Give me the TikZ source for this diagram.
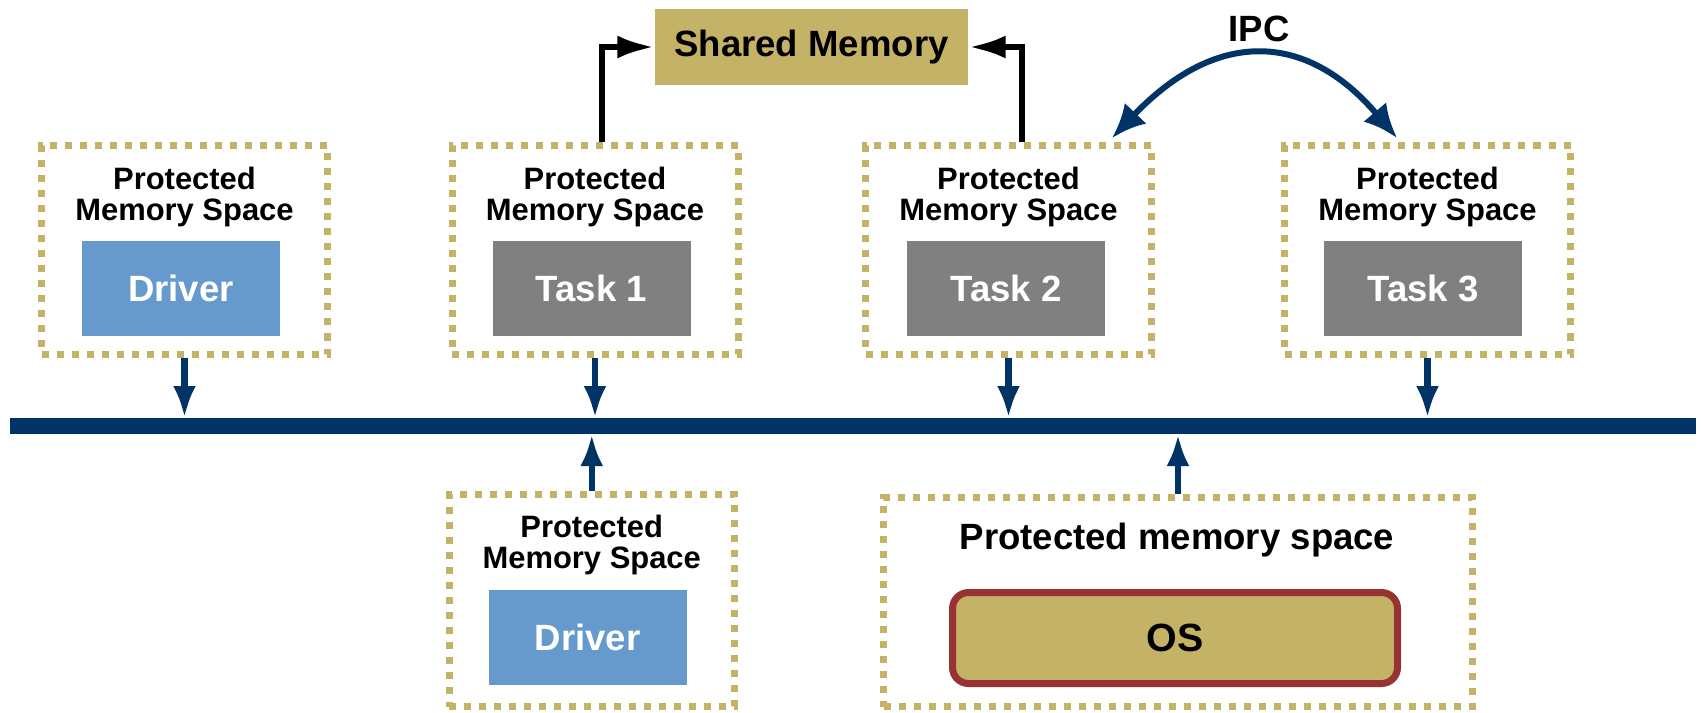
\documentclass[tikz,border=0pt]{standalone}
\usepackage{fontspec}
\setmainfont{Liberation Sans}
\usepackage{tikz}
\usetikzlibrary{arrows.meta}

\definecolor{busblue}{HTML}{003366}
\definecolor{memgold}{HTML}{C4B266}
\definecolor{dotgold}{HTML}{C4B266}
\definecolor{drvblue}{HTML}{6699CC}
\definecolor{taskgray}{HTML}{808080}
\definecolor{osred}{HTML}{993333}

\begin{document}
\begin{tikzpicture}[x=1cm,y=-1cm,>=Latex,
    membox/.style={draw=dotgold,line width=0.07cm,dash pattern=on 0.07cm off 0.08cm,
        minimum width=2.86cm,minimum height=2.09cm,inner sep=0pt},
    pmlabel/.style={align=center,font=\fontsize{8.8}{8.6}\selectfont\bfseries},
    biglabel/.style={font=\fontsize{10.4}{12}\selectfont\bfseries},
    drvbox/.style={biglabel,fill=drvblue,text=white,minimum width=1.98cm,
        minimum height=0.95cm,inner sep=0pt},
    taskbox/.style={drvbox,fill=taskgray},
    busarrow/.style={-{Latex[length=0.32cm,width=0.23cm]},busblue,line width=0.065cm},
    shmarrow/.style={-{Latex[length=0.37cm,width=0.23cm]},black,line width=0.06cm},
    ipcarrow/.style={{Latex[length=0.34cm,width=0.30cm]}-{Latex[length=0.34cm,width=0.30cm]},
        busblue,line width=0.06cm}]

    \useasboundingbox (0,0) rectangle (17.01,7.12);

    % Bus
    \coordinate (busL) at (0.10,4.26);
    \coordinate (busR) at (16.96,4.26);
    \coordinate (busT) at (0.10,4.18);
    \coordinate (busB) at (0.10,4.34);
    \draw[busblue,line width=0.16cm] (busL) -- (busR);

    % Upper row
    \node[membox] (pm1) at (1.845,2.50) {};
    \node[membox] (pm2) at (5.95,2.50) {};
    \node[membox] (pm3) at (10.085,2.50) {};
    \node[membox] (pm4) at (14.275,2.50) {};

    \node[pmlabel] (pm1lbl) at (1.845,1.97) {Protected\\Memory Space};
    \node[pmlabel] (pm2lbl) at (5.95,1.97) {Protected\\Memory Space};
    \node[pmlabel] (pm3lbl) at (10.085,1.97) {Protected\\Memory Space};
    \node[pmlabel] (pm4lbl) at (14.275,1.97) {Protected\\Memory Space};

    \node[drvbox] (drv1) at (1.81,2.885) {Driver};
    \node[taskbox] (task1) at (5.915,2.885) {Task 1};
    \node[taskbox] (task2) at (10.06,2.885) {Task 2};
    \node[taskbox] (task3) at (14.23,2.885) {Task 3};

    \draw[busarrow] (pm1.south) -- (pm1.south |- busT);
    \draw[busarrow] (pm2.south) -- (pm2.south |- busT);
    \draw[busarrow] (pm3.south) -- (pm3.south |- busT);
    \draw[busarrow] (pm4.south) -- (pm4.south |- busT);

    % Lower row
    \node[membox,minimum width=2.855cm,minimum height=2.12cm] (pm5) at (5.9175,6.005) {};
    \node[pmlabel] (pm5lbl) at (5.9175,5.45) {Protected\\Memory Space};
    \node[drvbox] (drv2) at (5.875,6.37) {Driver};

    \node[membox,minimum width=5.89cm] (pmos) at (11.78,6.02) {};
    \node[biglabel] (pmoslbl) at (11.77,5.40) {Protected memory space};
    \node[biglabel,fill=memgold,draw=osred,line width=0.07cm,rounded corners=0.16cm,
        minimum width=4.45cm,minimum height=0.91cm,inner sep=0pt,
        font=\fontsize{11.2}{13}\selectfont\bfseries] (os) at (11.75,6.38) {OS};

    \draw[busarrow] (pm5.north) -- (pm5.north |- busB);
    \draw[busarrow] (pmos.north) -- (pmos.north |- busB);

    % Shared memory
    \node[biglabel,fill=memgold,minimum width=3.13cm,minimum height=0.76cm,inner sep=0pt]
        (shm) at (8.115,0.47) {Shared Memory};
    \draw[shmarrow] ([xshift=0.07cm]pm2.north) |- (shm.west);
    \draw[shmarrow] ([xshift=0.135cm]pm3.north) |- (shm.east);

    % IPC
    \node[biglabel] (ipc) at (12.59,0.29) {IPC};
    \draw[ipcarrow] ([xshift=-0.43cm,yshift=0.04cm]pm3.north east)
        .. controls (12.15,0.30) and (13.05,0.30) .. ([xshift=-0.305cm,yshift=0.04cm]pm4.north);

\end{tikzpicture}
\end{document}
